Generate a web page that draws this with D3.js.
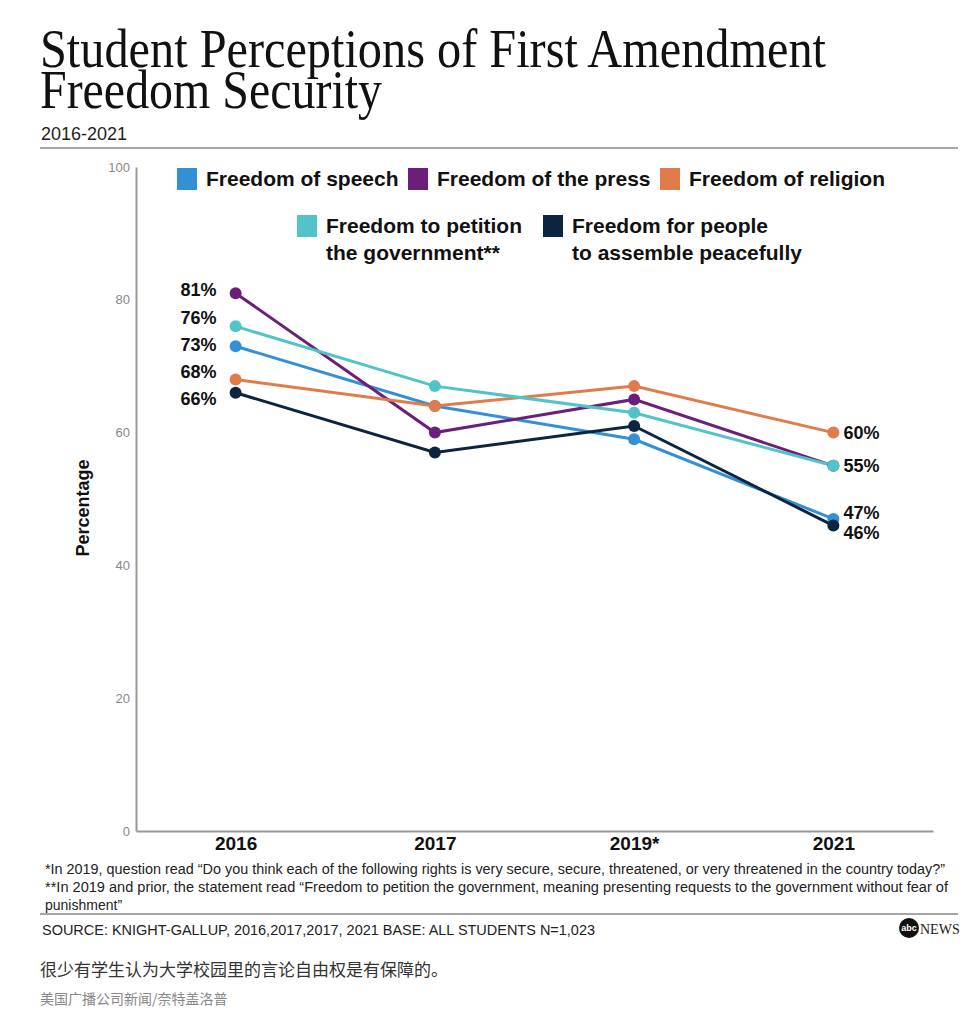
<!DOCTYPE html>
<html>
<head>
<meta charset="utf-8">
<script src="https://cdn.jsdelivr.net/npm/d3@7"></script>
<style>
body { margin: 0; background: #fff; }
</style>
</head>
<body>
<div></div>
<script>
var years = ['2016', '2017', '2019*', '2021'];
var speech = [73, 64, 59, 47];
var press = [81, 60, 65, 55];
var religion = [68, 64, 67, 60];
var petition = [76, 67, 63, 55];
var assemble = [66, 57, 61, 46];
var yTicks = [0, 20, 40, 60, 80, 100];
var legendLabels = [
    ['Freedom of speech'],
    ['Freedom of the press'],
    ['Freedom of religion'],
    ['Freedom to petition', 'the government**'],
    ['Freedom for people', 'to assemble peacefully']
];
var seriesColors = ['#3490d6', '#6b1f7a', '#e07c4a', '#52c3c9', '#0c2440'];
var titleLines = ['Student Perceptions of First Amendment', 'Freedom Security'];
var footnotes = [
    '*In 2019, question read \u201cDo you think each of the following rights is very secure, secure, threatened, or very threatened in the country today?\u201d',
    '**In 2019 and prior, the statement read \u201cFreedom to petition the government, meaning presenting requests to the government without fear of',
    'punishment\u201d'
];

var series = [speech, press, religion, petition, assemble].map(function(values, i) {
    return { values: values, color: seriesColors[i], label: legendLabels[i] };
});

var width = 979;
var height = 1024;
var sans = 'Liberation Sans, Arial, sans-serif';
var narrow = 'Liberation Sans Narrow, Liberation Sans, Arial, sans-serif';

var svg = d3.select('div')
    .append('svg')
    .attr('width', width)
    .attr('height', height)
    .style('display', 'block');

// titulo (un solo text con dos lineas, interlineado muy justo como el original)
var title = svg.append('text')
    .attr('font-family', 'Liberation Serif, Times New Roman, serif')
    .attr('font-size', 55)
    .attr('fill', '#111');
title.selectAll('tspan')
    .data(titleLines)
    .enter()
    .append('tspan')
    .attr('x', 40)
    .attr('y', function(d, i) { return 67 + i * 41; })
    .attr('textLength', function(d, i) { return i == 0 ? 786 : 342; })
    .attr('lengthAdjust', 'spacingAndGlyphs')
    .text(function(d) { return d; });

svg.append('text')
    .attr('x', 41).attr('y', 140)
    .attr('font-family', narrow)
    .attr('font-size', 18)
    .attr('fill', '#222')
    .text('2016-2021');
svg.append('line')
    .attr('x1', 40).attr('x2', 958)
    .attr('y1', 148).attr('y2', 148)
    .attr('stroke', '#888').attr('stroke-width', 1.5);

// escalas
var x = d3.scalePoint()
    .domain(years)
    .range([136, 933])
    .padding(0.5);
var y = d3.scaleLinear()
    .domain([0, 100])
    .range([831, 167]);

var yAxis = d3.axisLeft(y).tickValues(yTicks).tickSize(0).tickPadding(6);
var gy = svg.append('g')
    .attr('transform', 'translate(136,0)')
    .call(yAxis);
gy.select('.domain').attr('stroke', '#999').attr('stroke-width', 2);
gy.selectAll('text')
    .attr('font-family', sans)
    .attr('font-size', 13)
    .attr('fill', '#888');

var xAxis = d3.axisBottom(x).tickSize(0).tickPadding(6);
var gx = svg.append('g')
    .attr('transform', 'translate(0,831)')
    .call(xAxis);
gx.select('.domain').attr('stroke', '#999').attr('stroke-width', 2);
gx.selectAll('text')
    .attr('font-family', sans)
    .attr('font-size', 19)
    .attr('font-weight', 'bold')
    .attr('fill', '#111');

//titulo eje y
svg.append('text')
    .attr('transform', 'translate(89,508) rotate(-90)')
    .attr('text-anchor', 'middle')
    .attr('font-family', sans)
    .attr('font-size', 18)
    .attr('font-weight', 'bold')
    .attr('fill', '#111')
    .text('Percentage');

// lineas
var line = d3.line()
    .x(function(d, i) { return x(years[i]); })
    .y(function(d) { return y(d); });

svg.append('g')
    .selectAll('path')
    .data(series)
    .enter()
    .append('path')
    .attr('d', function(d) { return line(d.values); })
    .attr('fill', 'none')
    .attr('stroke', function(d) { return d.color; })
    .attr('stroke-width', 3);

series.forEach(function(s) {
    svg.append('g')
        .selectAll('circle')
        .data(s.values)
        .enter()
        .append('circle')
        .attr('cx', function(d, i) { return x(years[i]); })
        .attr('cy', function(d) { return y(d); })
        .attr('r', 6)
        .attr('fill', s.color);
});

// etiquetas: separar las que se pisan
function dodge(vals, gap) {
    var items = vals.map(function(v) { return { v: v, y: y(v) }; })
        .sort(function(a, b) { return a.y - b.y; });
    for (var k = 0; k < 50; k++) {
        for (var i = 1; i < items.length; i++) {
            var diff = items[i].y - items[i - 1].y;
            if (diff < gap) {
                var push = (gap - diff) / 2;
                items[i - 1].y -= push;
                items[i].y += push;
            }
        }
    }
    return items;
}

var firstVals = series.map(function(s) { return s.values[0]; });
var lastVals = Array.from(new Set(series.map(function(s) { return s.values[s.values.length - 1]; })));

svg.append('g')
    .selectAll('text')
    .data(dodge(firstVals, 27))
    .enter()
    .append('text')
    .attr('x', x(years[0]) - 19)
    .attr('y', function(d) { return d.y - 3; })
    .attr('dy', '0.35em')
    .attr('text-anchor', 'end')
    .attr('font-family', sans)
    .attr('font-size', 18)
    .attr('font-weight', 'bold')
    .attr('fill', '#111')
    .text(function(d) { return d.v + '%'; });

svg.append('g')
    .selectAll('text')
    .data(dodge(lastVals, 20))
    .enter()
    .append('text')
    .attr('x', x(years[years.length - 1]) + 10)
    .attr('y', function(d) { return d.y; })
    .attr('dy', '0.35em')
    .attr('font-family', sans)
    .attr('font-size', 18)
    .attr('font-weight', 'bold')
    .attr('fill', '#111')
    .text(function(d) { return d.v + '%'; });

// leyenda
var legendPos = [[177, 168], [408, 168], [660, 168], [297, 215], [543, 215]];
var legend = svg.append('g')
    .selectAll('g')
    .data(series)
    .enter()
    .append('g')
    .attr('transform', function(d, i) { return 'translate(' + legendPos[i][0] + ',' + legendPos[i][1] + ')'; });
legend.append('rect')
    .attr('width', 20)
    .attr('height', 22)
    .attr('fill', function(d) { return d.color; });
legend.each(function(d) {
    d3.select(this).selectAll('text')
        .data(d.label)
        .enter()
        .append('text')
        .attr('x', 29)
        .attr('y', function(t, j) { return 18 + j * 27; })
        .attr('font-family', sans)
        .attr('font-size', 21)
        .attr('font-weight', 'bold')
        .attr('fill', '#111')
        .text(function(t) { return t; });
});

// notas
svg.append('g')
    .selectAll('text')
    .data(footnotes)
    .enter()
    .append('text')
    .attr('x', 45)
    .attr('y', function(d, i) { return 874 + i * 18; })
    .attr('font-family', narrow)
    .attr('font-size', 14)
    .attr('fill', '#222')
    .attr('textLength', function(d, i) { return i == 0 ? 900 : (i == 1 ? 903 : null); })
    .attr('lengthAdjust', 'spacingAndGlyphs')
    .text(function(d) { return d; });

svg.append('line')
    .attr('x1', 40).attr('x2', 958)
    .attr('y1', 914).attr('y2', 914)
    .attr('stroke', '#888').attr('stroke-width', 1.5);

svg.append('text')
    .attr('x', 42).attr('y', 935)
    .attr('font-family', narrow)
    .attr('font-size', 15)
    .attr('fill', '#222')
    .attr('textLength', 553)
    .attr('lengthAdjust', 'spacingAndGlyphs')
    .text('SOURCE: KNIGHT-GALLUP, 2016,2017,2017, 2021 BASE: ALL STUDENTS N=1,023');

// logo
svg.append('circle')
    .attr('cx', 909).attr('cy', 928).attr('r', 10)
    .attr('fill', '#111');
svg.append('text')
    .attr('x', 909).attr('y', 931)
    .attr('text-anchor', 'middle')
    .attr('font-family', sans)
    .attr('font-size', 9)
    .attr('font-weight', 'bold')
    .attr('fill', '#fff')
    .text('abc');
svg.append('text')
    .attr('x', 920).attr('y', 934)
    .attr('font-family', 'Liberation Serif, serif')
    .attr('font-size', 14)
    .attr('fill', '#222')
    .text('NEWS');

svg.append('text')
    .attr('x', 40).attr('y', 976)
    .attr('font-family', 'Noto Sans CJK SC, sans-serif')
    .attr('font-size', 17)
    .attr('fill', '#333')
    .text('很少有学生认为大学校园里的言论自由权是有保障的。');
svg.append('text')
    .attr('x', 40).attr('y', 1004)
    .attr('font-family', 'Noto Sans CJK SC, sans-serif')
    .attr('font-size', 14)
    .attr('fill', '#888')
    .text('美国广播公司新闻/奈特盖洛普');
</script>
</body>
</html>
